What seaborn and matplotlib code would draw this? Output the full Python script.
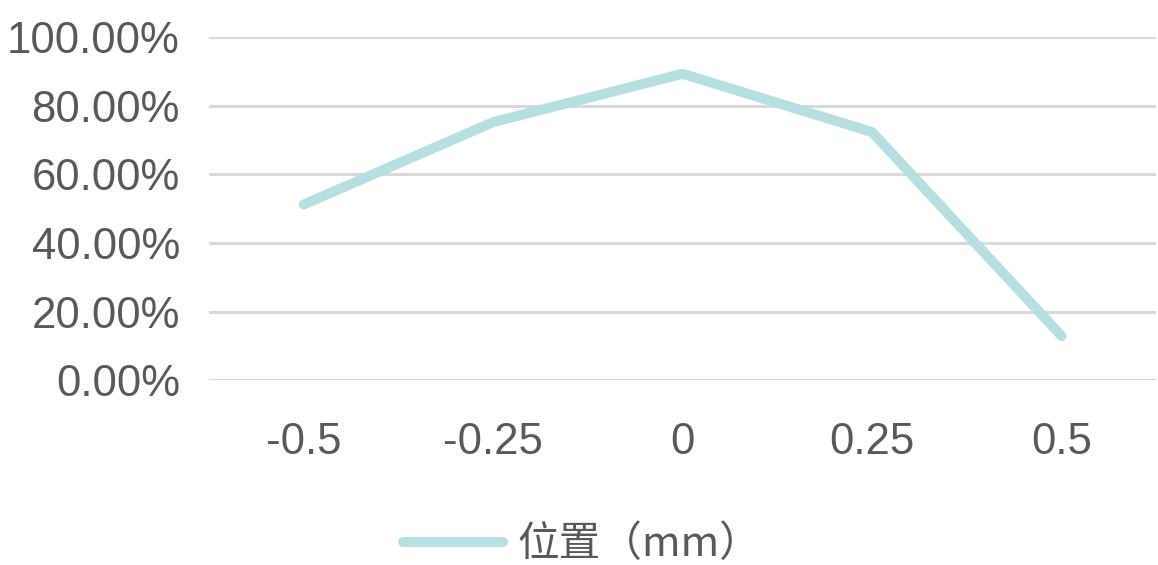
import matplotlib
matplotlib.use("Agg")
import matplotlib.pyplot as plt
import seaborn as sns
import pandas as pd
from matplotlib.ticker import PercentFormatter

categories = ["-0.5", "-0.25", "0", "0.25", "0.5"]
values = [0.512, 0.752, 0.893, 0.723, 0.129]
series_name = "位置（mm）"

sns.set_style("white")
plt.rcParams['font.family'] = ['Liberation Sans', 'Noto Sans CJK SC', 'DejaVu Sans']

df = pd.DataFrame({"x": categories, "y": values, "s": series_name})

fig = plt.figure(figsize=(11.58, 5.65), dpi=100)
ax = fig.add_axes([0.1805, 0.327, 0.818, 0.6075])

line_color = "#b5dfe0"
sns.lineplot(data=df, x="x", y="y", ax=ax, color=line_color, linewidth=7.2,
             sort=False, solid_capstyle="round", solid_joinstyle="round",
             label=series_name, legend=False)

ax.set_xlim(-0.5, len(categories) - 0.5)
ax.set_ylim(0, 1.0)
ax.set_yticks([0, 0.2, 0.4, 0.6, 0.8, 1.0])
ax.yaxis.set_major_formatter(PercentFormatter(1.0, decimals=2))
ax.grid(axis="y", color="#d9d9d9", linewidth=2.2)
ax.grid(axis="x", visible=False)
ax.set_axisbelow(True)
for s in ax.spines.values():
    s.set_visible(False)
ax.tick_params(axis="both", length=0, labelsize=31.5, colors="#595959")
ax.tick_params(axis="y", pad=21)
ax.tick_params(axis="x", pad=30)
ax.set_xlabel("")
ax.set_ylabel("")

handles, labels = ax.get_legend_handles_labels()
leg = fig.legend(handles, labels, loc="center", bbox_to_anchor=(0.503, 0.036),
                 frameon=False, handlelength=2.4, handletextpad=0.35,
                 prop={"family": ["Noto Sans CJK SC", "DejaVu Sans"], "size": 30})
for t in leg.get_texts():
    t.set_color("#595959")

fig.savefig("out.png", dpi=100, facecolor="white")
